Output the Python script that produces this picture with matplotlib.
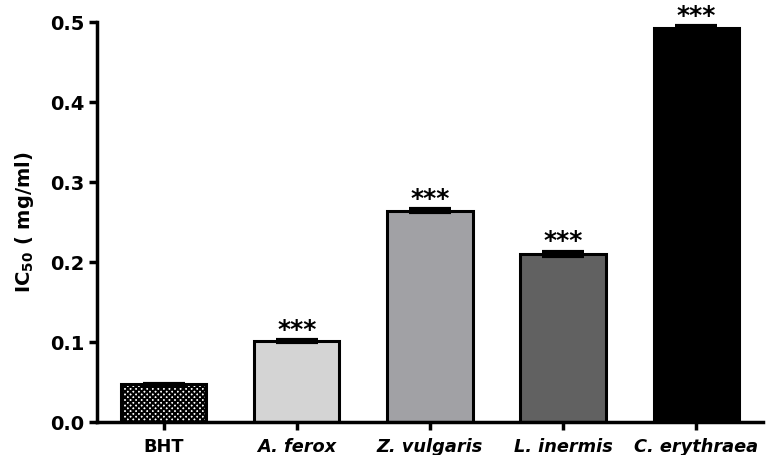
import matplotlib
matplotlib.use("Agg")
import matplotlib.pyplot as plt

categories = ["BHT", "A. ferox", "Z. vulgaris", "L. inermis", "C. erythraea"]
values = [0.047, 0.101, 0.264, 0.210, 0.492]
errors = [0.001, 0.001, 0.002, 0.003, 0.003]
colors = ["white", "#d4d4d4", "#a1a1a5", "#616161", "#000000"]
hatches = ["xxxxxx", None, None, None, None]
signif = ["", "***", "***", "***", "***"]
yticks = [0.0, 0.1, 0.2, 0.3, 0.4, 0.5]

plt.rcParams['font.family'] = ['DejaVu Sans']
plt.rcParams['hatch.linewidth'] = 1.5

fig = plt.figure(figsize=(7.77, 4.55), dpi=100)
ax = fig.add_axes([0.1248, 0.0725, 0.857, 0.879])

x = list(range(len(categories)))
for i in x:
    ax.bar(i, values[i], width=0.64, color=colors[i], edgecolor="black",
           linewidth=2.2, hatch=hatches[i], zorder=2)
ax.errorbar(x, values, yerr=errors, fmt="none", ecolor="black",
            elinewidth=2, capsize=15, capthick=3, zorder=3)
for i in x:
    if signif[i]:
        ax.text(i, values[i] + errors[i] + 0.004, signif[i], ha="center", va="baseline",
                fontsize=18, fontweight="bold")

ax.set_xlim(-0.5, 4.5)
ax.set_ylim(0, 0.5)
ax.set_yticks(yticks)
ax.set_yticklabels([f"{v:.1f}" for v in yticks], fontsize=14, fontweight="bold")
ax.set_xticks(x)
ax.set_xticklabels(categories, fontsize=12.8, fontweight="bold")
for lbl in ax.get_xticklabels()[1:]:
    lbl.set_fontstyle("italic")
ax.set_ylabel("IC$_{\\mathbf{50}}$ ( mg/ml)", fontsize=14, fontweight="bold", labelpad=10)
for s in ["top", "right"]:
    ax.spines[s].set_visible(False)
for s in ["left", "bottom"]:
    ax.spines[s].set_linewidth(2.5)
ax.tick_params(axis="both", direction="out", length=6, width=2.5, pad=3)
ax.tick_params(axis="x", pad=5.5)

fig.savefig("out.png", dpi=100)
